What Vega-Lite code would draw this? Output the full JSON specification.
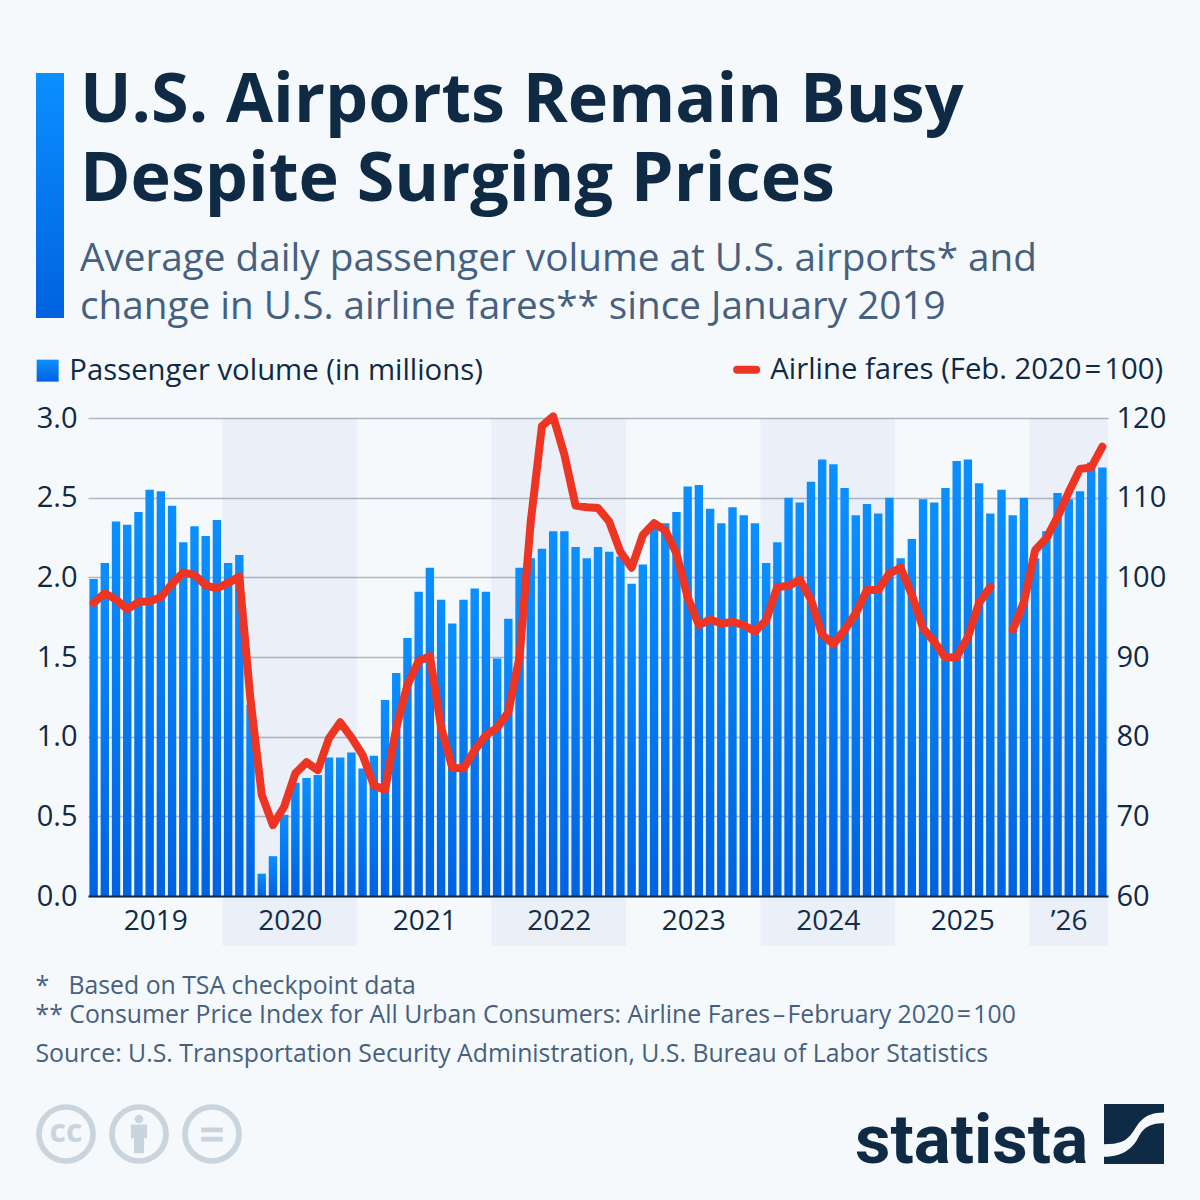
{"$schema":"https://vega.github.io/schema/vega-lite/v6.json","width":1020,"height":478,"autosize":"none","padding":{"left":88,"top":418,"right":92,"bottom":304},"background":"#f5f9fc",
"title":{"text":["U.S. Airports Remain Busy","Despite Surging Prices"],"subtitle":["Average daily passenger volume at U.S. airports* and","change in U.S. airline fares** since January 2019"],"anchor":"start","frame":"group","dx":-8,"offset":-255,"font":"Open Sans","fontWeight":"bold","fontSize":68.3,"lineHeight":79,"color":"#0f2a44","subtitleFont":"Open Sans","subtitleFontSize":38.7,"subtitleLineHeight":48,"subtitleColor":"#46607f","subtitlePadding":25},
"data":{"values":[
{"month":"2019-01","passengers":1.99,"fares":96.8},{"month":"2019-02","passengers":2.09,"fares":98.0},{"month":"2019-03","passengers":2.35,"fares":97.2},{"month":"2019-04","passengers":2.33,"fares":96.0},{"month":"2019-05","passengers":2.41,"fares":96.9},{"month":"2019-06","passengers":2.55,"fares":97.0},{"month":"2019-07","passengers":2.54,"fares":97.5},{"month":"2019-08","passengers":2.45,"fares":99.2},{"month":"2019-09","passengers":2.22,"fares":100.6},{"month":"2019-10","passengers":2.32,"fares":100.3},{"month":"2019-11","passengers":2.26,"fares":99.0},{"month":"2019-12","passengers":2.36,"fares":98.6},
{"month":"2020-01","passengers":2.09,"fares":99.3},{"month":"2020-02","passengers":2.14,"fares":100.1},{"month":"2020-03","passengers":1.2,"fares":84.6},{"month":"2020-04","passengers":0.14,"fares":72.7},{"month":"2020-05","passengers":0.25,"fares":68.9},{"month":"2020-06","passengers":0.51,"fares":71.2},{"month":"2020-07","passengers":0.71,"fares":75.4},{"month":"2020-08","passengers":0.74,"fares":76.8},{"month":"2020-09","passengers":0.76,"fares":75.8},{"month":"2020-10","passengers":0.87,"fares":79.8},{"month":"2020-11","passengers":0.87,"fares":81.8},{"month":"2020-12","passengers":0.9,"fares":79.9},
{"month":"2021-01","passengers":0.8,"fares":77.7},{"month":"2021-02","passengers":0.88,"fares":73.9},{"month":"2021-03","passengers":1.23,"fares":73.3},{"month":"2021-04","passengers":1.4,"fares":81.1},{"month":"2021-05","passengers":1.62,"fares":86.5},{"month":"2021-06","passengers":1.91,"fares":89.5},{"month":"2021-07","passengers":2.06,"fares":90.1},{"month":"2021-08","passengers":1.86,"fares":81.2},{"month":"2021-09","passengers":1.71,"fares":76.1},{"month":"2021-10","passengers":1.86,"fares":76.0},{"month":"2021-11","passengers":1.93,"fares":78.3},{"month":"2021-12","passengers":1.91,"fares":80.2},
{"month":"2022-01","passengers":1.49,"fares":81.1},{"month":"2022-02","passengers":1.74,"fares":83.1},{"month":"2022-03","passengers":2.06,"fares":90.0},{"month":"2022-04","passengers":2.12,"fares":107.0},{"month":"2022-05","passengers":2.18,"fares":119.0},{"month":"2022-06","passengers":2.29,"fares":120.2},{"month":"2022-07","passengers":2.29,"fares":115.4},{"month":"2022-08","passengers":2.19,"fares":109.0},{"month":"2022-09","passengers":2.12,"fares":108.8},{"month":"2022-10","passengers":2.19,"fares":108.7},{"month":"2022-11","passengers":2.16,"fares":107.0},{"month":"2022-12","passengers":2.13,"fares":103.2},
{"month":"2023-01","passengers":1.96,"fares":101.2},{"month":"2023-02","passengers":2.08,"fares":105.3},{"month":"2023-03","passengers":2.34,"fares":106.8},{"month":"2023-04","passengers":2.34,"fares":105.9},{"month":"2023-05","passengers":2.41,"fares":103.0},{"month":"2023-06","passengers":2.57,"fares":97.5},{"month":"2023-07","passengers":2.58,"fares":94.0},{"month":"2023-08","passengers":2.43,"fares":94.7},{"month":"2023-09","passengers":2.34,"fares":94.2},{"month":"2023-10","passengers":2.44,"fares":94.4},{"month":"2023-11","passengers":2.39,"fares":94.0},{"month":"2023-12","passengers":2.34,"fares":93.2},
{"month":"2024-01","passengers":2.09,"fares":94.6},{"month":"2024-02","passengers":2.22,"fares":98.8},{"month":"2024-03","passengers":2.5,"fares":98.9},{"month":"2024-04","passengers":2.47,"fares":99.7},{"month":"2024-05","passengers":2.6,"fares":97.2},{"month":"2024-06","passengers":2.74,"fares":92.8},{"month":"2024-07","passengers":2.71,"fares":91.6},{"month":"2024-08","passengers":2.56,"fares":93.4},{"month":"2024-09","passengers":2.39,"fares":95.5},{"month":"2024-10","passengers":2.46,"fares":98.4},{"month":"2024-11","passengers":2.4,"fares":98.4},{"month":"2024-12","passengers":2.5,"fares":100.5},
{"month":"2025-01","passengers":2.12,"fares":101.2},{"month":"2025-02","passengers":2.24,"fares":97.8},{"month":"2025-03","passengers":2.49,"fares":93.6},{"month":"2025-04","passengers":2.47,"fares":91.9},{"month":"2025-05","passengers":2.56,"fares":89.9},{"month":"2025-06","passengers":2.73,"fares":90.0},{"month":"2025-07","passengers":2.74,"fares":92.5},{"month":"2025-08","passengers":2.59,"fares":96.8},{"month":"2025-09","passengers":2.4,"fares":98.8},{"month":"2025-10","passengers":2.55,"fares":null},{"month":"2025-11","passengers":2.39,"fares":93.4},{"month":"2025-12","passengers":2.5,"fares":96.9},
{"month":"2026-01","passengers":2.12,"fares":103.4},{"month":"2026-02","passengers":2.29,"fares":104.9},{"month":"2026-03","passengers":2.53,"fares":107.6},{"month":"2026-04","passengers":2.49,"fares":110.7},{"month":"2026-05","passengers":2.54,"fares":113.6},{"month":"2026-06","passengers":2.72,"fares":113.8},{"month":"2026-07","passengers":2.69,"fares":116.4}
]},
"layer":[
{"layer":[
{"data":{"values":[{"start":2020,"end":2021},{"start":2022,"end":2023},{"start":2024,"end":2025},{"start":2026,"end":2026.5833}]},
"mark":{"type":"rect","fill":"#4e63b9","opacity":0.06},
"encoding":{
"x":{"field":"start","type":"quantitative","scale":{"domain":[2019,2026.5833],"nice":false,"zero":false},
"axis":{"orient":"bottom","values":[2019.5,2020.5,2021.5,2022.5,2023.5,2024.5,2025.5,2026.29],"labelExpr":"datum.value < 2026 ? floor(datum.value) : '’26'","domain":false,"ticks":false,"grid":false,"labelFont":"Open Sans","labelFontSize":28,"labelColor":"#0f2a44","labelPadding":11,"labelOverlap":false,"labelFlush":false,"title":"Source: U.S. Transportation Security Administration, U.S. Bureau of Labor Statistics","titleX":-53,"titleY":158,"titleAlign":"left","titleAnchor":"start","titleBaseline":"middle","titleFont":"Open Sans","titleFontWeight":"normal","titleFontSize":24.8,"titleColor":"#46607f"}},
"x2":{"field":"end"},
"y":{"datum":3,"type":"quantitative","scale":{"domain":[0,3],"nice":false},"axis":null},
"y2":{"datum":-0.314}}},
{"data":{"values":[{}]},"mark":{"type":"rect","fill":{"gradient":"linear","x1":0,"y1":0,"x2":0,"y2":1,"stops":[{"offset":0,"color":"#0b8fff"},{"offset":1,"color":"#0062e0"}]}},
"encoding":{"x":{"datum":2018.6134,"type":"quantitative"},"x2":{"datum":2018.8216},"y":{"datum":5.165,"type":"quantitative"},"y2":{"datum":3.628}}},
{"data":{"values":[{"x":2018.8364},{"x":2019.3792},{"x":2019.9219}]},"mark":{"type":"point","filled":false,"stroke":"#c9d4dd","strokeWidth":5.7,"size":2916,"shape":"circle","opacity":1},
"encoding":{"x":{"field":"x","type":"quantitative"},"y":{"datum":-1.4937,"type":"quantitative"}}},
{"data":{"values":[{}]},"mark":{"type":"text","text":"cc","font":"Open Sans","fontWeight":"bold","fontSize":32,"color":"#c9d4dd","align":"center","baseline":"middle","dy":-2},
"encoding":{"x":{"datum":2018.8364,"type":"quantitative"},"y":{"datum":-1.4937,"type":"quantitative"}}},
{"data":{"values":[{}]},"mark":{"type":"point","filled":true,"fill":"#c9d4dd","strokeWidth":0,"opacity":1,"size":3600,"shape":"M-.27,-.32H.27V.14H.167V.64H-.167V.14H-.27Z M-.145,-.5A.145,.145 0 1 1 .145,-.5A.145,.145 0 1 1 -.145,-.5Z"},
"encoding":{"x":{"datum":2019.3792,"type":"quantitative"},"y":{"datum":-1.4937,"type":"quantitative"}}},
{"data":{"values":[{}]},"mark":{"type":"point","filled":true,"fill":"#c9d4dd","strokeWidth":0,"opacity":1,"size":3600,"shape":"M-.36,-.22H.36V-.06H-.36Z M-.36,.09H.36V.25H-.36Z"},
"encoding":{"x":{"datum":2019.9219,"type":"quantitative"},"y":{"datum":-1.4937,"type":"quantitative"}}},
{"data":{"values":[{}]},"mark":{"type":"text","text":"statista","font":"Roboto","fontWeight":"bold","fontSize":69,"color":"#0f2a44","align":"left","baseline":"alphabetic"},
"encoding":{"x":{"datum":2024.7024,"type":"quantitative"},"y":{"datum":-1.6757,"type":"quantitative"}}},
{"data":{"values":[{}]},"mark":{"type":"point","filled":true,"fill":"#0f2a44","strokeWidth":0,"opacity":1,"size":3600,"shape":"M-1,-1H1V-.72C.3,-.72 .15,-.35 -.05,-.05C-.25,.25 -.5,.34 -1,.34Z M-1,.76C-.3,.76 0,.4 .15,.1C.3,-.15 .45,-.355 1,-.355V1H-1Z"},
"encoding":{"x":{"datum":2026.7767,"type":"quantitative"},"y":{"datum":-1.4937,"type":"quantitative"}}}
]},
{"mark":{"type":"bar","width":8.4},
"encoding":{
"x":{"field":"month","type":"nominal","scale":{"type":"band","paddingInner":0.25,"paddingOuter":0.125},
"axis":{"orient":"bottom","labels":false,"ticks":false,"domain":true,"domainColor":"#0f2a44","domainWidth":2,"grid":false,"zindex":1,"title":["*\u00a0\u00a0\u00a0Based on TSA checkpoint data","** Consumer Price Index for All Urban Consumers: Airline Fares\u200a–\u200aFebruary 2020\u200a=\u200a100"],"titleX":-53,"titleY":90,"titleAlign":"left","titleAnchor":"start","titleBaseline":"middle","titleLineHeight":29,"titleFont":"Open Sans","titleFontWeight":"normal","titleFontSize":24.8,"titleColor":"#46607f"}},
"y":{"field":"passengers","type":"quantitative","scale":{"domain":[0,3],"nice":false},
"axis":{"orient":"left","values":[0,0.5,1,1.5,2,2.5,3],"format":".1f","grid":true,"gridColor":"#aeb8c3","gridWidth":1.3,"domain":false,"ticks":false,"labelFont":"Open Sans","labelFontSize":29,"labelColor":"#0f2a44","labelPadding":11,"title":null}},
"fill":{"datum":"Passenger volume (in millions)","scale":{"domain":["Passenger volume (in millions)"],"range":[{"expr":"{gradient:'linear',x1:0,y1:0,x2:0,y2:1,stops:[{offset:0,color:'#0b8fff'},{offset:1,color:'#0062e0'}]}"}]},
"legend":{"orient":"none","legendX":-55,"legendY":-62,"title":null,"symbolType":"square","symbolSize":484,"symbolStrokeWidth":0,"labelFont":"Open Sans","labelFontSize":29.3,"labelColor":"#0f2a44","labelOffset":7,"labelLimit":600}}}},
{"mark":{"type":"line","strokeWidth":8,"strokeCap":"round","strokeJoin":"round"},
"encoding":{
"x":{"field":"month","type":"nominal","scale":{"type":"band","paddingInner":0.25,"paddingOuter":0.125},"axis":null},
"y":{"field":"fares","type":"quantitative","scale":{"domain":[60,120],"nice":false,"zero":false},
"axis":{"orient":"right","values":[60,70,80,90,100,110,120],"grid":false,"domain":false,"ticks":false,"labelFont":"Open Sans","labelFontSize":29,"labelColor":"#0f2a44","labelPadding":8,"title":null}},
"stroke":{"datum":"Airline fares (Feb. 2020\u200a=\u200a100)","scale":{"domain":["Airline fares (Feb. 2020\u200a=\u200a100)"],"range":["#ee3524"]},
"legend":{"orient":"none","legendX":644,"legendY":-63,"title":null,"symbolType":"stroke","symbolSize":361,"symbolStrokeWidth":8,"labelFont":"Open Sans","labelFontSize":29.3,"labelColor":"#0f2a44","labelOffset":9,"labelLimit":600,"encode":{"symbols":{"update":{"strokeCap":{"value":"round"}}}}}}}}
],
"resolve":{"scale":{"x":"independent","y":"independent","fill":"independent","stroke":"independent"}},
"config":{"view":{"stroke":null}}}
